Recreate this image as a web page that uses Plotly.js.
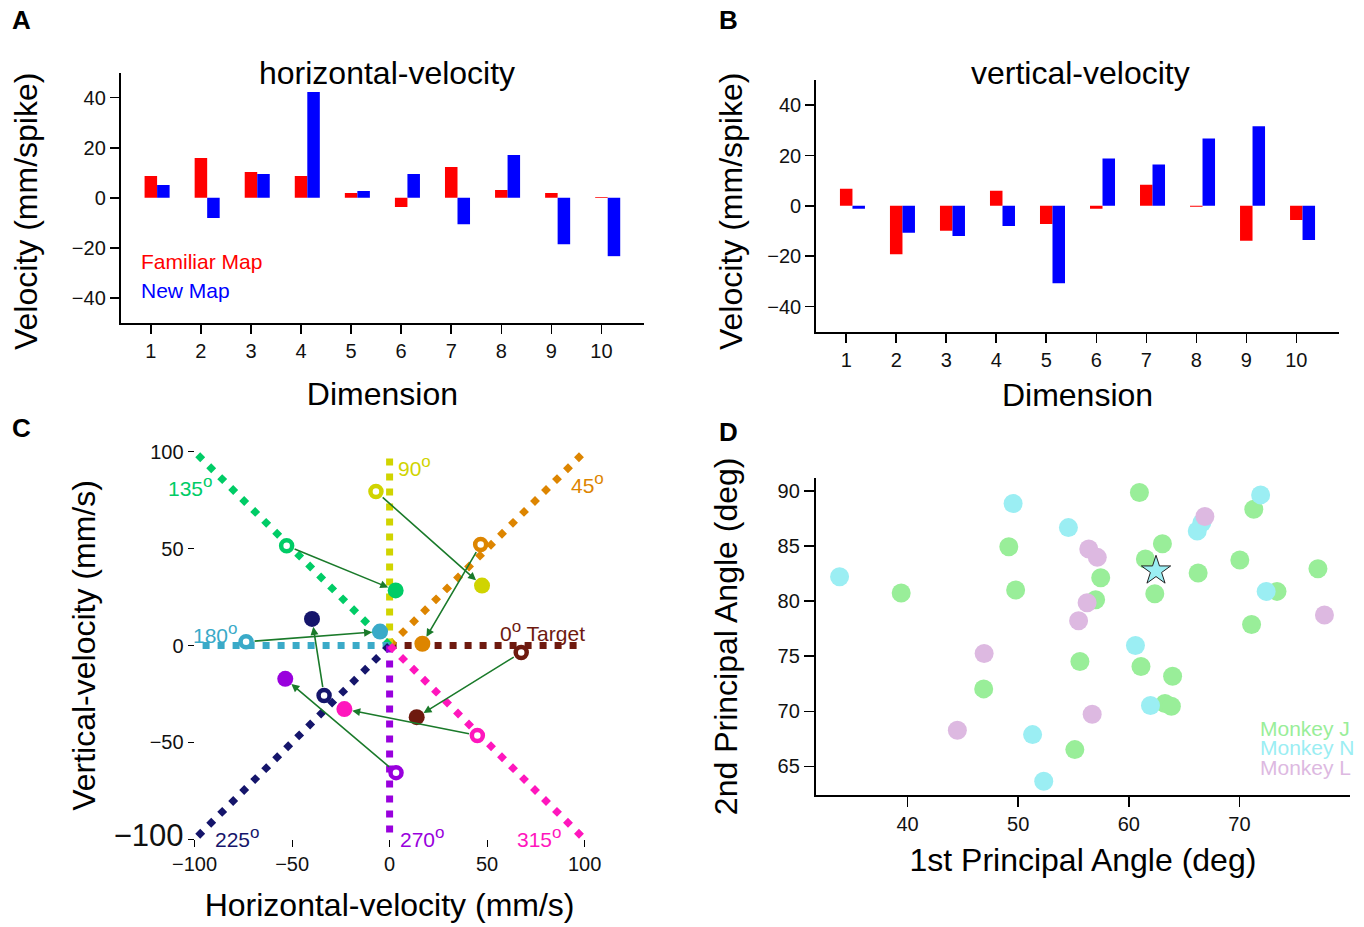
<!DOCTYPE html>
<html><head><meta charset="utf-8">
<script src="https://cdn.plot.ly/plotly-3.0.1.min.js"></script>
<style>html,body{margin:0;padding:0;background:#fff}#chart{width:1364px;height:927px}</style>
</head><body><div id="chart"></div>
<script>
// ---------- Panel A / B data ----------
const dims = [1,2,3,4,5,6,7,8,9,10];
const hFamiliar = [8.7,15.9,10.3,8.7,1.9,-3.7,12.3,3.1,1.9,0.3];
const hNew      = [5.1,-8.1,9.5,42.3,2.7,9.5,-10.5,17.1,-18.5,-23.3];
const vFamiliar = [6.8,-19.2,-9.9,6.0,-7.2,-1.2,8.4,-0.4,-13.9,-5.6];
const vNew      = [-1.2,-10.7,-12.0,-8.0,-30.8,18.8,16.4,26.8,31.6,-13.6];
const barTicks  = [-40,-20,0,20,40];

// ---------- Panel C data ----------
const targetAngles = ['0','45','90','135','180','225','270','315'];
const targetColors = ['#6e1a0f','#dd8500','#d0d400','#00cc66','#3aaac8','#15156b','#9900dd','#ff16bd'];
const dirEndX = [100,100,0,-100,-100,-100,0,100];
const dirEndY = [0,100,100,100,0,-100,-100,-100];
const familiarVX = [67.5,46.7,-7.0,-52.8,-73.6,-33.6,3.3,45.0];
const familiarVY = [-3.6,52.1,79.5,51.5,1.9,-25.8,-65.6,-46.4];
const newVX = [13.9,16.8,47.4,3.1,-4.9,-39.8,-53.5,-23.2];
const newVY = [-37.0,0.9,30.9,28.4,7.2,13.7,-17.2,-32.8];
const cTicks = [-100,-50,0,50,100];
const cTickText = ['−100','−50','0','50','100'];

// ---------- Panel D data ----------
const jX = [60.96,71.3,49.15,63.04,61.5,70.04,77.1,66.27,57.46,39.42,49.77,62.35,57.0,73.4,71.1,55.58,61.1,63.96,46.88,63.27,63.85,55.12];
const jY = [89.85,88.33,84.94,85.21,83.82,83.73,82.94,82.55,82.12,80.73,81.0,80.67,80.12,80.88,77.88,74.52,74.06,73.18,72.03,70.7,70.45,66.52];
const nX = [33.85,49.54,54.54,66.19,66.6,71.92,72.42,60.6,61.96,51.3,52.31];
const nY = [82.21,88.85,86.67,86.36,87.1,89.64,80.88,75.97,70.52,67.88,63.64];
const lX = [66.88,56.38,57.15,56.23,55.46,77.69,46.92,56.69,44.5];
const lY = [87.67,84.73,83.97,79.85,78.21,78.73,75.24,69.73,68.27];
const starX = [62.46];
const starY = [82.76];
const monkeyNames = ['Monkey J','Monkey N','Monkey L'];
const monkeyColors = ['#99ee99','#9beef3','#ddb9e1'];

const FONT = 'Liberation Sans, Arial, Helvetica, sans-serif';
const W = 1364, H = 927;
const fx = p => p / W;
const fy = p => 1 - p / H;

const traces = [];
// Panel A
traces.push({type:'bar', x:dims, y:hFamiliar, xaxis:'x', yaxis:'y', width:0.25, offset:-0.125, marker:{color:'#ff0000'}, name:'Familiar Map'});
traces.push({type:'bar', x:dims, y:hNew, xaxis:'x', yaxis:'y', width:0.25, offset:0.125, marker:{color:'#0000ff'}, name:'New Map'});
// Panel B
traces.push({type:'bar', x:dims, y:vFamiliar, xaxis:'x2', yaxis:'y2', width:0.25, offset:-0.125, marker:{color:'#ff0000'}, name:'Familiar Map'});
traces.push({type:'bar', x:dims, y:vNew, xaxis:'x2', yaxis:'y2', width:0.25, offset:0.125, marker:{color:'#0000ff'}, name:'New Map'});

// Panel C direction lines
targetAngles.forEach((a,i) => {
  const diag = dirEndX[i] !== 0 && dirEndY[i] !== 0;
  traces.push({type:'scatter', mode:'lines', x:[0, dirEndX[i]], y:[0, dirEndY[i]], xaxis:'x3', yaxis:'y3',
    line:{color:targetColors[i], width:7, dash: diag ? '7px,8.5px' : '7px,8px'}, hoverinfo:'skip'});
});
// open circles (familiar)
traces.push({type:'scatter', mode:'markers', x:familiarVX, y:familiarVY, xaxis:'x3', yaxis:'y3',
  marker:{symbol:'circle', size:11, color:'#ffffff', line:{color:targetColors, width:4.5}}});
// filled circles (new)
traces.push({type:'scatter', mode:'markers', x:newVX, y:newVY, xaxis:'x3', yaxis:'y3',
  marker:{symbol:'circle', size:16, color:targetColors}});

// Panel D
traces.push({type:'scatter', mode:'markers', x:jX, y:jY, xaxis:'x4', yaxis:'y4', marker:{size:19, color:monkeyColors[0]}, name:monkeyNames[0]});
traces.push({type:'scatter', mode:'markers', x:nX, y:nY, xaxis:'x4', yaxis:'y4', marker:{size:19, color:monkeyColors[1]}, name:monkeyNames[1]});
traces.push({type:'scatter', mode:'markers', x:lX, y:lY, xaxis:'x4', yaxis:'y4', marker:{size:19, color:monkeyColors[2]}, name:monkeyNames[2]});
traces.push({type:'scatter', mode:'markers', x:starX, y:starY, xaxis:'x4', yaxis:'y4', marker:{symbol:'star', size:22, color:monkeyColors[1], line:{color:'#222', width:1}}});

const axCommon = {showgrid:false, zeroline:false, showline:true, linecolor:'#000', linewidth:2,
  ticks:'outside', ticklen:9, tickwidth:1.5, tickcolor:'#000', automargin:false, fixedrange:true,
  tickfont:{size:20, color:'#111'}};
const titleFont = {size:32, color:'#000'};

const annotations = [];
// panel letters
[['A',21,20],['B',728,20],['C',21,428],['D',728,432]].forEach(([t,x,y]) => {
  annotations.push({xref:'paper', yref:'paper', x:fx(x), y:fy(y), text:'<b>'+t+'</b>', showarrow:false, xanchor:'center', yanchor:'middle', font:{size:26, color:'#000'}});
});
// panel titles
annotations.push({xref:'paper', yref:'paper', x:fx(387), y:fy(73), text:'horizontal-velocity', showarrow:false, xanchor:'center', yanchor:'middle', font:{size:32, color:'#000'}});
annotations.push({xref:'paper', yref:'paper', x:fx(1080), y:fy(73), text:'vertical-velocity', showarrow:false, xanchor:'center', yanchor:'middle', font:{size:32, color:'#000'}});
// y titles of A and B
annotations.push({xref:'paper', yref:'paper', x:fx(26), y:fy(212), text:'Velocity (mm/spike)', textangle:-90, showarrow:false, xanchor:'center', yanchor:'middle', font:titleFont});
annotations.push({xref:'paper', yref:'paper', x:fx(731), y:fy(212), text:'Velocity (mm/spike)', textangle:-90, showarrow:false, xanchor:'center', yanchor:'middle', font:titleFont});
// legend of A
annotations.push({xref:'x', yref:'y', x:0.77, y:-25.3, text:'Familiar Map', showarrow:false, xanchor:'left', yanchor:'middle', font:{size:21, color:'#ff0000'}});
annotations.push({xref:'x', yref:'y', x:0.77, y:-36.9, text:'New Map', showarrow:false, xanchor:'left', yanchor:'middle', font:{size:21, color:'#0000ff'}});
// legend of D
const monkeyLegendY = [68.42,66.67,64.94];
monkeyNames.forEach((t,i) => {
  annotations.push({xref:'x4', yref:'y4', x:71.7, y:monkeyLegendY[i], text:t, showarrow:false, xanchor:'left', yanchor:'middle', font:{size:21, color:monkeyColors[i]}});
});
// direction labels in C  [x, y, anchor]
const labelPos = [[55.6,7.4,'left'],[92,84,'left'],[3.4,92.8,'left'],[-89.5,82.5,'right'],[-76.5,6.2,'right'],[-90.7,-98.8,'left'],[4.3,-98.8,'left'],[64.2,-98.8,'left']];
targetAngles.forEach((a,i) => {
  annotations.push({xref:'x3', yref:'y3', x:labelPos[i][0], y:labelPos[i][1],
    text:a+'<sup><span style="font-size:17px">o</span></sup>'+(i===0?' Target':''),
    showarrow:false, xanchor:labelPos[i][2], yanchor:'middle', font:{size:21, color:targetColors[i]}});
});
// arrows in C
const pxX = 390/200, pxY = 387.6/200;
targetAngles.forEach((a,i) => {
  annotations.push({xref:'x3', yref:'y3', axref:'x3', ayref:'y3', x:newVX[i], y:newVY[i], ax:familiarVX[i], ay:familiarVY[i],
    text:'', showarrow:true, arrowhead:2, arrowsize:1, arrowwidth:1.6, arrowcolor:'#1a7a2a', standoff:8, startstandoff:7});
  const dxs = (newVX[i]-familiarVX[i])*pxX, dys = -(newVY[i]-familiarVY[i])*pxY;
  const len = Math.hypot(dxs, dys), L = 5;
  annotations.push({xref:'x3', yref:'y3', x:newVX[i], y:newVY[i], ax:-dxs/len*L, ay:-dys/len*L,
    text:'', showarrow:true, arrowhead:2, arrowsize:1, arrowwidth:1.6, arrowcolor:'#000', standoff:8});
});

const layout = {
  width:W, height:H, margin:{l:0,r:0,t:0,b:0}, showlegend:false,
  paper_bgcolor:'#fff', plot_bgcolor:'#fff', barmode:'overlay',
  font:{family:FONT, color:'#000', size:20},
  xaxis: Object.assign({}, axCommon, {domain:[fx(120.8), fx(644)], anchor:'y', range:[0.4,10.85], tickvals:dims,
    title:{text:'Dimension', font:titleFont, standoff:22}}),
  yaxis: Object.assign({}, axCommon, {domain:[fy(323), fy(72.7)], anchor:'x', range:[-50,50], tickvals:barTicks}),
  xaxis2: Object.assign({}, axCommon, {domain:[fx(816.2), fx(1338.8)], anchor:'y2', range:[0.4,10.85], tickvals:dims,
    title:{text:'Dimension', font:titleFont, standoff:14}}),
  yaxis2: Object.assign({}, axCommon, {domain:[fy(331.7), fy(80)], anchor:'x2', range:[-50,50], tickvals:barTicks}),
  xaxis3: Object.assign({}, axCommon, {domain:[fx(194.6), fx(584.6)], anchor:'y3', range:[-100,100], tickvals:cTicks, ticktext:cTickText,
    showline:false, ticklen:7, tickwidth:1.2, title:{text:'Horizontal-velocity (mm/s)', font:titleFont, standoff:19}}),
  yaxis3: Object.assign({}, axCommon, {domain:[fy(839.3), fy(451.7)], anchor:'x3', range:[-100,100], tickvals:cTicks,
    ticktext:['<span style="font-size:31px">'+cTickText[0]+'</span>'].concat(cTickText.slice(1)),
    showline:false, ticklen:6, tickwidth:1.2, title:{text:'Vertical-velocity (mm/s)', font:titleFont, standoff:8}}),
  xaxis4: Object.assign({}, axCommon, {domain:[fx(815.8), fx(1350)], anchor:'y4', range:[31.7,80], tickvals:[40,50,60,70],
    ticklen:10, title:{text:'1st Principal Angle (deg)', font:titleFont, standoff:15}}),
  yaxis4: Object.assign({}, axCommon, {domain:[fy(795), fy(477.7)], anchor:'x4', range:[62.4,91.2], tickvals:[65,70,75,80,85,90],
    ticklen:10, title:{text:'2nd Principal Angle (deg)', font:titleFont, standoff:30}}),
  annotations: annotations
};

Plotly.newPlot('chart', traces, layout, {displayModeBar:false, staticPlot:true});
</script>
</body></html>
